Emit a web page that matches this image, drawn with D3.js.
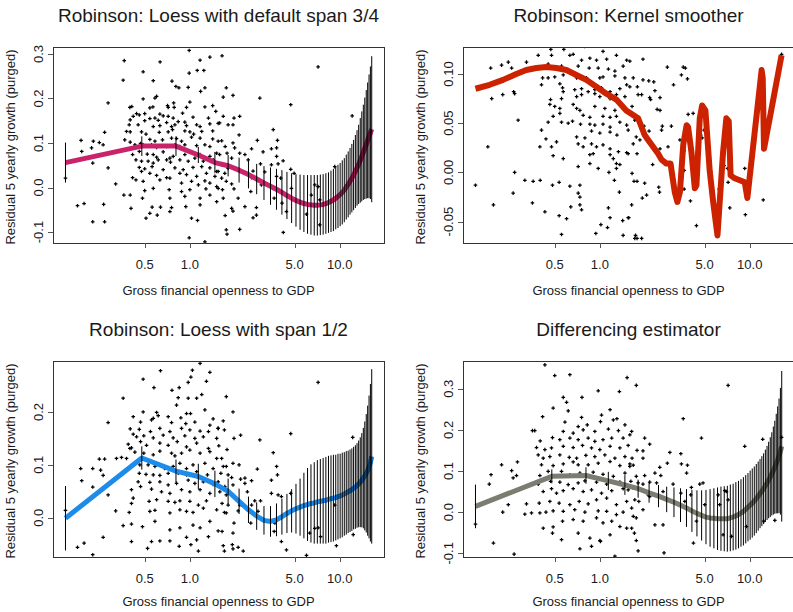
<!DOCTYPE html>
<html><head><meta charset="utf-8">
<script src="https://cdn.jsdelivr.net/npm/d3@7"></script>
<style>body{margin:0;background:#fff}svg{display:block}text{font-family:"Liberation Sans",Arial,sans-serif;fill:#1a1a1a}</style>
</head><body><svg id="c" width="793" height="612"></svg>
<script>
// ---------- data ----------
const xTicks=[0.5,1,5,10];
const xTickLabels=["0.5","1.0","5.0","10.0"];
const xLabel="Gross financial openness to GDP";
const yLabel="Residual 5 yearly growth (purged)";
const titles=["Robinson: Loess with default span 3/4","Robinson: Kernel smoother","Robinson: Loess with span 1/2","Differencing estimator"];

const gridX=[0.148,0.478,0.808,1.139,1.469,1.800,2.130,2.461,2.791,3.122,3.452,3.783,4.113,4.443,4.774,5.104,5.435,5.765,6.096,6.426,6.757,7.087,7.418,7.748,8.079,8.409,8.740,9.070,9.401,9.731,10.06,10.39,10.72,11.05,11.38,11.71,12.04,12.37,12.71,13.04,13.37,13.70,14.03,14.36,14.69,15.02,15.35,15.68,16.01,16.34];

const fitSpan34=[0.056,0.093,0.093,0.073,0.056,0.049,0.039,0.029,0.019,0.010,0.003,-0.004,-0.011,-0.018,-0.024,-0.029,-0.033,-0.036,-0.038,-0.039,-0.040,-0.040,-0.039,-0.038,-0.036,-0.034,-0.031,-0.028,-0.024,-0.020,-0.016,-0.011,-0.006,0.001,0.007,0.014,0.021,0.028,0.036,0.044,0.052,0.061,0.070,0.079,0.088,0.097,0.106,0.115,0.123,0.131];
const bandSpan34=[0.045,0.022,0.022,0.018,0.024,0.024,0.028,0.031,0.034,0.038,0.042,0.046,0.050,0.053,0.056,0.059,0.062,0.064,0.066,0.067,0.068,0.068,0.068,0.068,0.068,0.068,0.069,0.070,0.070,0.071,0.071,0.072,0.072,0.073,0.074,0.075,0.077,0.079,0.082,0.085,0.089,0.095,0.101,0.107,0.114,0.122,0.130,0.139,0.149,0.164];

const fitSpan12=[-0.001,0.113,0.088,0.078,0.064,0.050,0.031,0.015,0.003,-0.005,-0.007,-0.004,0.002,0.008,0.013,0.017,0.020,0.023,0.025,0.027,0.028,0.030,0.031,0.032,0.033,0.035,0.036,0.037,0.038,0.040,0.041,0.043,0.045,0.047,0.049,0.051,0.053,0.056,0.058,0.061,0.064,0.067,0.071,0.075,0.079,0.084,0.089,0.096,0.104,0.116];
const bandSpan12=[0.061,0.022,0.022,0.024,0.025,0.024,0.024,0.025,0.026,0.027,0.029,0.031,0.034,0.037,0.041,0.047,0.054,0.062,0.069,0.074,0.077,0.079,0.080,0.081,0.082,0.082,0.082,0.082,0.081,0.081,0.080,0.080,0.079,0.079,0.078,0.078,0.078,0.078,0.079,0.080,0.082,0.085,0.089,0.095,0.103,0.112,0.123,0.135,0.149,0.165];

const fitDiff=[0.014,0.087,0.089,0.076,0.066,0.057,0.047,0.039,0.031,0.024,0.017,0.010,0.003,-0.003,-0.008,-0.012,-0.014,-0.015,-0.016,-0.016,-0.016,-0.016,-0.014,-0.012,-0.009,-0.006,-0.002,0.002,0.007,0.012,0.017,0.022,0.027,0.033,0.039,0.045,0.051,0.057,0.064,0.071,0.078,0.085,0.093,0.101,0.109,0.118,0.127,0.137,0.148,0.160];
const bandDiff=[0.053,0.017,0.020,0.022,0.024,0.022,0.024,0.027,0.031,0.036,0.041,0.046,0.051,0.056,0.061,0.066,0.070,0.073,0.076,0.078,0.079,0.080,0.081,0.081,0.082,0.082,0.082,0.083,0.083,0.083,0.084,0.084,0.084,0.084,0.084,0.084,0.085,0.086,0.088,0.090,0.093,0.097,0.101,0.107,0.113,0.121,0.130,0.139,0.154,0.183];

const kernX=[0.148,0.184,0.226,0.277,0.323,0.377,0.440,0.513,0.598,0.697,0.813,0.948,1.105,1.289,1.50,1.80,1.99,2.10,2.45,2.58,2.78,2.96,3.16,3.29,3.42,3.60,3.79,3.88,4.08,4.30,4.41,4.64,4.81,5.06,5.41,5.70,6.09,6.64,6.98,7.24,7.45,7.94,9.26,9.64,12.0,12.2,12.45,16.3];
const kernY=[0.085,0.089,0.094,0.100,0.104,0.106,0.107,0.106,0.104,0.099,0.094,0.087,0.080,0.074,0.063,0.055,0.038,0.033,0.019,0.013,0.009,0.009,-0.020,-0.030,-0.020,0.028,0.048,0.046,0.021,-0.016,-0.013,0.055,0.068,0.063,0.001,-0.030,-0.064,0.021,0.055,0.052,-0.003,-0.006,-0.010,-0.026,0.104,0.096,0.024,0.119];

const ptsSpan34=[[0.365,0.285],[0.633,0.282],[0.99,0.308],[1.17,0.286],[1.36,0.293],[1.24,0.263],[1.12,0.263],[0.99,0.257],[0.488,0.260],[0.359,0.241],[0.76,0.239],[0.57,0.240],[0.807,0.227],[0.845,0.224],[0.975,0.225],[1.18,0.216],[1.26,0.224],[0.488,0.199],[0.585,0.201],[0.60,0.205],[0.285,0.190],[0.41,0.182],[0.398,0.180],[0.567,0.181],[0.541,0.179],[0.71,0.184],[0.78,0.190],[0.786,0.180],[0.717,0.180],[1.0,0.192],[0.95,0.180],[1.26,0.181],[1.42,0.184],[1.49,0.171],[0.441,0.166],[0.419,0.160],[0.46,0.163],[0.50,0.166],[0.631,0.165],[0.664,0.161],[0.717,0.160],[0.585,0.156],[0.774,0.156],[0.894,0.167],[1.05,0.158],[1.33,0.156],[0.40,0.152],[0.50,0.150],[0.541,0.155],[0.615,0.151],[0.70,0.146],[0.836,0.148],[0.926,0.147],[1.11,0.141],[1.36,0.143],[1.545,0.144],[0.394,0.141],[0.452,0.141],[0.57,0.137],[0.631,0.139],[0.755,0.137],[0.795,0.141],[0.95,0.139],[1.17,0.137],[0.378,0.126],[0.40,0.125],[0.476,0.125],[0.51,0.120],[0.625,0.124],[0.717,0.125],[0.766,0.130],[0.926,0.127],[1.0,0.125],[1.06,0.120],[1.20,0.126],[1.42,0.127],[0.27,0.124],[0.188,0.106],[0.227,0.104],[0.249,0.101],[0.368,0.107],[0.40,0.102],[0.469,0.099],[0.541,0.108],[0.585,0.104],[0.657,0.107],[0.755,0.111],[0.815,0.110],[0.88,0.104],[1.026,0.113],[1.17,0.111],[1.42,0.109],[1.545,0.104],[0.19,0.081],[0.221,0.089],[0.264,0.096],[0.43,0.096],[0.488,0.096],[0.555,0.096],[0.60,0.090],[0.70,0.092],[0.795,0.096],[0.858,0.092],[0.926,0.096],[1.11,0.094],[1.26,0.096],[1.36,0.092],[0.415,0.074],[0.46,0.081],[0.52,0.075],[0.57,0.074],[0.60,0.068],[0.664,0.080],[0.736,0.066],[0.774,0.070],[0.926,0.074],[1.0,0.081],[1.05,0.077],[1.17,0.074],[1.36,0.070],[1.51,0.077],[0.225,0.055],[0.437,0.062],[0.476,0.059],[0.527,0.059],[0.57,0.055],[0.615,0.062],[0.70,0.062],[0.743,0.057],[0.858,0.062],[0.975,0.059],[1.08,0.066],[1.23,0.059],[1.43,0.062],[0.285,0.044],[0.46,0.045],[0.50,0.042],[0.56,0.047],[0.664,0.040],[0.795,0.044],[0.903,0.040],[1.05,0.045],[1.20,0.047],[1.36,0.044],[1.51,0.036],[0.415,0.022],[0.476,0.036],[0.541,0.032],[0.60,0.027],[0.70,0.022],[0.736,0.021],[0.858,0.032],[0.95,0.029],[1.11,0.025],[1.29,0.032],[1.47,0.025],[0.32,0.008],[0.437,0.017],[0.488,0.014],[0.631,0.017],[0.88,0.010],[1.026,0.014],[1.14,0.006],[1.26,0.015],[1.36,0.010],[0.50,-0.007],[0.57,-0.002],[0.728,-0.005],[0.88,-0.009],[1.0,-0.005],[1.28,-0.003],[1.51,0.002],[0.363,-0.017],[0.40,-0.017],[0.483,-0.024],[0.736,-0.024],[0.926,-0.020],[1.17,-0.024],[1.36,-0.017],[0.178,-0.041],[0.197,-0.036],[0.266,-0.038],[0.405,-0.047],[0.56,-0.044],[0.637,-0.044],[0.755,-0.045],[0.94,-0.043],[1.17,-0.039],[1.51,-0.032],[0.51,-0.069],[0.541,-0.058],[0.606,-0.062],[0.736,-0.054],[1.026,-0.069],[1.125,-0.074],[0.225,-0.077],[0.27,-0.077],[0.99,-0.113],[1.26,-0.122],[0.148,0.021],[1.64,0.296],[7.17,0.271],[1.75,0.224],[1.67,0.203],[1.94,0.207],[2.93,0.201],[4.71,0.186],[1.67,0.160],[1.97,0.156],[2.15,0.160],[1.58,0.145],[1.80,0.141],[1.94,0.141],[3.6,0.130],[2.13,0.118],[1.63,0.105],[1.94,0.100],[2.82,0.106],[3.84,0.106],[1.72,0.092],[1.99,0.089],[2.58,0.087],[3.5,0.087],[3.79,0.089],[1.77,0.077],[2.15,0.077],[2.33,0.074],[3.08,0.080],[1.58,0.074],[1.90,0.066],[2.45,0.062],[3.79,0.070],[4.19,0.060],[1.63,0.051],[1.80,0.043],[2.96,0.053],[3.5,0.051],[3.88,0.053],[4.71,0.041],[1.545,0.036],[1.71,0.032],[2.21,0.036],[2.64,0.037],[3.16,0.035],[4.96,0.032],[1.63,0.021],[1.75,0.014],[1.90,0.008],[2.58,0.022],[3.79,0.025],[4.04,0.021],[1.545,-0.002],[1.65,-0.005],[1.97,-0.003],[3.0,0.006],[3.6,-0.002],[2.55,-0.009],[4.76,-0.002],[6.81,0.006],[1.67,-0.024],[2.10,-0.024],[3.65,-0.024],[7.17,0.002],[7.36,-0.028],[1.90,-0.047],[2.33,-0.043],[2.78,-0.045],[4.12,-0.035],[1.72,-0.063],[1.94,-0.053],[2.64,-0.068],[2.78,-0.062],[4.41,-0.054],[6.0,-0.060],[1.75,-0.095],[2.15,-0.094],[1.77,-0.105],[4.2,-0.101],[7.36,-0.084],[12.1,0.161],[9.26,0.047],[6.47,-0.017]];

const ptsKernel=[[0.471,0.125],[0.575,0.125],[0.79,0.128],[1.05,0.123],[0.388,0.119],[0.476,0.119],[0.631,0.119],[0.664,0.120],[0.755,0.114],[0.858,0.116],[0.95,0.114],[1.11,0.115],[1.29,0.119],[1.51,0.114],[0.187,0.106],[0.245,0.112],[0.221,0.109],[0.258,0.106],[0.324,0.112],[0.452,0.110],[0.555,0.108],[0.717,0.108],[0.849,0.106],[0.975,0.106],[1.14,0.105],[1.26,0.103],[1.43,0.108],[0.415,0.096],[0.452,0.096],[0.50,0.097],[0.57,0.099],[0.70,0.096],[0.766,0.096],[0.815,0.096],[1.0,0.096],[1.05,0.097],[1.26,0.098],[1.47,0.096],[0.408,0.089],[0.541,0.090],[0.564,0.086],[0.68,0.084],[0.755,0.085],[0.836,0.082],[0.926,0.084],[1.026,0.086],[1.17,0.082],[1.36,0.085],[1.51,0.089],[0.19,0.075],[0.225,0.079],[0.266,0.082],[0.27,0.080],[0.469,0.074],[0.555,0.075],[0.57,0.082],[0.70,0.077],[0.755,0.079],[0.926,0.080],[1.0,0.077],[1.17,0.075],[1.29,0.079],[1.47,0.077],[0.464,0.069],[0.50,0.067],[0.541,0.065],[0.664,0.069],[0.70,0.065],[0.736,0.063],[0.926,0.067],[1.08,0.065],[1.26,0.063],[0.488,0.057],[0.541,0.060],[0.774,0.058],[0.858,0.056],[1.05,0.057],[1.17,0.056],[1.29,0.057],[0.285,0.053],[0.452,0.051],[0.555,0.051],[0.615,0.050],[0.657,0.052],[0.743,0.049],[0.858,0.049],[0.926,0.048],[1.05,0.049],[1.17,0.046],[1.36,0.051],[1.51,0.048],[0.408,0.043],[0.88,0.042],[1.0,0.040],[1.17,0.041],[1.3,0.038],[0.437,0.034],[0.514,0.031],[0.398,0.026],[0.476,0.026],[0.179,0.026],[0.70,0.036],[0.795,0.035],[0.717,0.029],[0.774,0.026],[0.88,0.029],[0.95,0.026],[1.05,0.028],[1.17,0.024],[1.33,0.021],[1.51,0.020],[0.488,0.017],[0.57,0.014],[0.858,0.018],[0.903,0.019],[1.17,0.018],[1.23,0.014],[1.29,0.009],[1.36,0.008],[0.27,0.000],[0.717,0.006],[0.858,0.009],[0.975,0.004],[1.15,0.000],[1.29,0.004],[0.316,-0.008],[0.359,-0.009],[0.40,-0.008],[0.483,-0.013],[0.535,-0.010],[0.631,-0.014],[0.736,-0.013],[0.148,-0.013],[0.264,-0.021],[0.717,-0.021],[0.736,-0.025],[1.25,-0.008],[1.35,-0.020],[0.355,-0.031],[0.195,-0.033],[0.64,-0.035],[0.736,-0.033],[0.755,-0.038],[1.14,-0.036],[0.43,-0.040],[0.535,-0.044],[0.60,-0.047],[1.17,-0.046],[1.42,-0.049],[1.56,-0.046],[1.016,-0.053],[1.125,-0.056],[0.555,-0.063],[0.94,-0.062],[1.43,-0.064],[1.585,0.113],[1.94,0.115],[2.82,0.107],[3.6,0.107],[3.72,0.106],[3.5,0.099],[3.84,0.095],[1.67,0.096],[1.94,0.094],[2.12,0.093],[2.29,0.092],[1.585,0.087],[1.78,0.087],[3.1,0.089],[2.33,0.083],[1.80,0.079],[1.90,0.079],[2.15,0.076],[2.18,0.074],[2.52,0.076],[1.64,0.067],[2.41,0.064],[2.52,0.063],[3.88,0.059],[4.19,0.060],[1.71,0.053],[1.97,0.047],[2.61,0.047],[3.0,0.047],[1.545,0.043],[2.13,0.042],[2.58,0.043],[4.96,0.043],[1.75,0.036],[4.71,0.038],[4.81,0.035],[3.42,0.033],[1.85,0.033],[4.04,0.029],[1.67,0.029],[2.85,0.026],[2.52,0.024],[1.545,0.019],[1.77,0.019],[3.65,0.022],[2.25,0.008],[6.74,0.007],[7.1,0.004],[9.26,0.004],[3.65,0.002],[1.64,-0.001],[1.69,-0.009],[1.77,-0.009],[1.99,-0.011],[2.47,-0.015],[2.5,-0.020],[7.17,-0.010],[6.25,-0.017],[3.65,-0.017],[2.05,-0.023],[1.92,-0.026],[4.02,-0.029],[12.3,-0.028],[1.63,-0.033],[7.36,-0.036],[9.35,-0.043],[1.545,-0.046],[4.41,-0.054],[1.73,-0.064],[1.71,-0.067],[1.77,-0.067],[1.90,-0.067],[16.3,0.120]];

const ptsSpan12=[[0.365,0.298],[1.17,0.292],[0.637,0.278],[1.04,0.279],[1.36,0.275],[1.016,0.266],[0.488,0.262],[0.975,0.256],[1.29,0.258],[0.576,0.246],[0.849,0.246],[0.76,0.241],[0.359,0.226],[0.836,0.227],[0.975,0.226],[1.11,0.226],[1.20,0.233],[0.815,0.213],[0.488,0.200],[0.60,0.199],[0.95,0.197],[1.01,0.197],[1.26,0.204],[0.419,0.191],[0.57,0.188],[0.615,0.193],[0.717,0.191],[0.871,0.189],[1.43,0.187],[0.285,0.180],[0.469,0.181],[0.555,0.185],[0.755,0.180],[0.94,0.178],[1.08,0.181],[1.36,0.175],[0.40,0.168],[0.46,0.167],[0.546,0.163],[0.631,0.169],[0.736,0.163],[0.88,0.169],[1.0,0.166],[1.17,0.164],[1.33,0.163],[1.545,0.169],[0.419,0.158],[0.441,0.153],[0.493,0.155],[0.57,0.151],[0.664,0.156],[0.774,0.151],[0.926,0.155],[1.08,0.150],[1.23,0.153],[1.51,0.150],[0.388,0.139],[0.408,0.132],[0.469,0.144],[0.514,0.137],[0.631,0.141],[0.717,0.137],[0.824,0.144],[0.95,0.134],[1.11,0.141],[1.33,0.131],[1.56,0.136],[0.187,0.093],[0.225,0.093],[0.249,0.111],[0.27,0.111],[0.324,0.112],[0.35,0.114],[0.398,0.131],[0.378,0.112],[0.43,0.124],[0.493,0.122],[0.57,0.119],[0.631,0.126],[0.755,0.122],[0.795,0.117],[0.88,0.122],[1.0,0.128],[1.17,0.122],[1.36,0.125],[1.51,0.112],[0.254,0.090],[0.264,0.080],[0.464,0.100],[0.527,0.100],[0.585,0.097],[0.68,0.093],[0.774,0.097],[0.858,0.103],[0.95,0.093],[1.05,0.100],[1.26,0.103],[1.43,0.093],[0.19,0.070],[0.225,0.058],[0.46,0.084],[0.51,0.082],[0.57,0.081],[0.631,0.080],[0.717,0.084],[0.836,0.084],[0.95,0.081],[1.11,0.087],[1.31,0.081],[0.452,0.068],[0.541,0.067],[0.631,0.068],[0.717,0.062],[0.815,0.065],[0.975,0.071],[1.08,0.065],[1.23,0.068],[1.43,0.063],[0.285,0.043],[0.408,0.053],[0.469,0.059],[0.555,0.054],[0.647,0.049],[0.736,0.046],[0.88,0.053],[1.0,0.049],[1.17,0.053],[1.36,0.046],[1.585,0.049],[0.408,0.027],[0.419,0.037],[0.535,0.031],[0.60,0.034],[0.717,0.031],[0.795,0.029],[0.858,0.032],[1.0,0.031],[1.14,0.024],[1.29,0.032],[0.32,0.013],[0.394,0.010],[0.541,0.012],[0.585,0.014],[0.736,0.009],[0.858,0.015],[0.95,0.012],[1.05,0.010],[1.23,0.018],[1.51,0.015],[0.359,-0.015],[0.408,-0.012],[0.483,-0.017],[0.585,-0.007],[0.736,-0.023],[0.858,-0.019],[1.05,-0.014],[1.17,-0.019],[1.36,-0.007],[0.264,-0.037],[0.408,-0.045],[0.555,-0.045],[0.631,-0.044],[0.736,-0.044],[0.95,-0.037],[1.11,-0.042],[1.33,-0.036],[0.178,-0.056],[0.197,-0.048],[0.522,-0.058],[0.225,-0.070],[0.849,-0.054],[1.016,-0.051],[1.14,-0.063],[0.148,0.014],[7.17,0.256],[1.75,0.229],[1.94,0.200],[1.67,0.183],[1.545,0.169],[1.70,0.166],[1.97,0.150],[2.18,0.156],[4.71,0.159],[2.93,0.147],[1.77,0.129],[12.2,0.152],[3.6,0.123],[1.63,0.112],[1.94,0.103],[2.13,0.100],[1.67,0.097],[1.75,0.097],[2.82,0.092],[3.79,0.097],[1.61,0.084],[1.80,0.081],[1.90,0.076],[2.33,0.075],[2.33,0.065],[2.58,0.070],[3.5,0.071],[3.84,0.081],[2.18,0.073],[1.545,0.068],[1.71,0.059],[1.94,0.062],[2.42,0.049],[3.5,0.046],[3.88,0.043],[4.71,0.046],[1.64,0.027],[1.75,0.043],[1.80,0.024],[2.15,0.024],[2.21,0.024],[2.71,0.032],[2.96,0.032],[4.08,0.040],[1.70,0.010],[1.75,0.009],[2.58,0.024],[2.10,0.013],[2.85,0.012],[5.0,0.017],[1.97,-0.010],[2.55,-0.010],[4.08,-0.001],[3.69,-0.010],[3.65,-0.026],[9.26,0.024],[1.545,-0.025],[1.64,-0.026],[1.94,-0.029],[6.3,-0.029],[6.81,-0.020],[7.17,-0.019],[7.45,-0.036],[12.3,-0.032],[4.08,-0.045],[1.67,-0.053],[1.92,-0.051],[1.94,-0.059],[2.10,-0.056],[2.27,-0.063],[1.70,-0.063],[4.41,-0.061],[6.0,-0.071],[9.5,-0.053]];

const ptsDiff=[[0.43,0.358],[0.50,0.332],[0.631,0.334],[1.52,0.327],[0.975,0.295],[1.35,0.293],[0.57,0.279],[0.76,0.279],[0.60,0.267],[0.488,0.253],[1.17,0.249],[1.30,0.227],[1.026,0.236],[0.755,0.230],[0.615,0.246],[0.415,0.232],[0.585,0.219],[0.717,0.208],[0.824,0.212],[1.01,0.220],[1.23,0.224],[1.47,0.212],[0.355,0.198],[0.368,0.198],[0.57,0.196],[0.664,0.192],[0.774,0.200],[0.926,0.196],[1.14,0.202],[1.33,0.198],[0.40,0.173],[0.483,0.181],[0.541,0.176],[0.631,0.180],[0.717,0.176],[0.836,0.180],[0.926,0.172],[1.05,0.176],[1.20,0.180],[1.43,0.180],[0.378,0.157],[0.43,0.152],[0.476,0.156],[0.57,0.160],[0.664,0.157],[0.766,0.162],[0.88,0.156],[1.0,0.152],[1.17,0.160],[1.36,0.156],[1.545,0.162],[0.388,0.139],[0.419,0.131],[0.464,0.135],[0.541,0.139],[0.625,0.133],[0.70,0.131],[0.807,0.138],[0.926,0.135],[1.08,0.139],[1.26,0.131],[1.47,0.135],[0.221,0.115],[0.282,0.122],[0.408,0.115],[0.488,0.113],[0.57,0.117],[0.664,0.122],[0.717,0.115],[0.836,0.115],[0.975,0.119],[1.17,0.123],[1.36,0.113],[1.585,0.117],[0.188,0.091],[0.258,0.101],[0.278,0.089],[0.398,0.089],[0.452,0.099],[0.555,0.099],[0.631,0.091],[0.736,0.095],[0.903,0.097],[1.05,0.092],[1.23,0.087],[1.47,0.095],[0.183,0.068],[0.264,0.083],[0.388,0.068],[0.469,0.075],[0.541,0.073],[0.615,0.067],[0.717,0.071],[0.795,0.076],[0.95,0.073],[1.11,0.068],[1.36,0.073],[0.419,0.050],[0.476,0.057],[0.514,0.046],[0.57,0.052],[0.664,0.057],[0.774,0.050],[0.88,0.054],[1.026,0.046],[1.20,0.052],[1.43,0.057],[0.245,0.018],[0.324,0.020],[0.394,0.022],[0.464,0.026],[0.535,0.022],[0.631,0.018],[0.728,0.026],[0.836,0.020],[0.95,0.030],[1.11,0.034],[1.29,0.018],[1.51,0.026],[0.225,0.000],[0.316,-0.005],[0.35,-0.002],[0.398,-0.002],[0.437,0.000],[0.488,0.003],[0.57,0.002],[0.68,0.006],[0.795,0.000],[0.975,0.003],[1.11,0.002],[1.29,-0.006],[1.43,0.000],[0.419,-0.039],[0.488,-0.036],[0.564,-0.022],[0.664,-0.018],[0.774,-0.022],[0.95,-0.014],[1.05,-0.026],[1.20,-0.022],[1.36,-0.035],[1.51,-0.039],[0.483,-0.051],[0.555,-0.067],[0.717,-0.051],[0.858,-0.063],[1.0,-0.069],[1.17,-0.055],[0.736,-0.089],[0.88,-0.083],[0.148,-0.029],[0.195,-0.075],[0.268,-0.102],[1.26,-0.107],[1.01,-0.071],[1.75,0.308],[7.17,0.308],[3.6,0.227],[4.76,0.180],[9.26,0.160],[12.2,0.177],[16.3,0.182],[1.63,0.196],[1.585,0.188],[1.99,0.180],[2.15,0.165],[1.77,0.150],[1.94,0.149],[2.93,0.145],[3.47,0.142],[1.64,0.131],[1.94,0.131],[1.585,0.111],[1.67,0.114],[2.51,0.109],[2.82,0.119],[3.5,0.117],[3.84,0.114],[3.79,0.095],[1.75,0.087],[1.99,0.089],[2.33,0.095],[2.55,0.089],[1.61,0.075],[1.80,0.071],[1.94,0.068],[2.15,0.073],[2.39,0.071],[3.08,0.068],[4.88,0.071],[4.64,0.068],[4.08,0.060],[1.545,0.054],[1.67,0.058],[1.90,0.054],[2.10,0.042],[2.64,0.050],[3.47,0.046],[4.04,0.042],[6.15,0.042],[6.81,0.052],[6.99,0.050],[1.71,0.030],[1.82,0.026],[2.15,0.038],[2.85,0.030],[3.69,0.026],[5.01,0.018],[6.3,0.018],[7.17,0.030],[1.63,0.010],[1.94,0.006],[1.67,-0.010],[1.75,-0.014],[4.41,-0.022],[2.33,-0.031],[2.64,-0.031],[1.63,-0.039],[1.70,-0.051],[1.75,-0.069],[4.21,-0.075],[2.68,-0.099],[1.80,-0.094],[6.64,-0.055],[7.55,-0.059],[9.5,-0.035],[12.4,-0.022],[14.7,-0.020]];

// ---------- layout / style ----------
const W=331, H=196;
const xDomain=[0.1222,19.73];
const panels=[
 {left:53, top:47, title:titles[0], yDom:[-0.1247,0.3157], yT:[-0.1,0,0.1,0.2,0.3], fmt:".1f", pts:ptsSpan34, fit:fitSpan34, band:bandSpan34, color:"#C8236B", lw:5},
 {left:463, top:47, title:titles[1], yDom:[-0.0717,0.1274], yT:[-0.05,0,0.05,0.10], fmt:".2f", pts:ptsKernel, kern:true, color:"#CC2200", lw:6},
 {left:53, top:361, title:titles[2], yDom:[-0.0743,0.2964], yT:[0,0.1,0.2], fmt:".1f", pts:ptsSpan12, fit:fitSpan12, band:bandSpan12, color:"#1C8BEA", lw:5},
 {left:463, top:361, title:titles[3], yDom:[-0.109,0.3673], yT:[-0.1,0,0.1,0.2,0.3], fmt:".1f", pts:ptsDiff, fit:fitDiff, band:bandDiff, color:"#7C7C70", lw:5}
];

const svg=d3.select("#c");
const defs=svg.append("defs");

panels.forEach((p,pi)=>{
  const x=d3.scaleLog().domain(xDomain).range([p.left,p.left+W]);
  const y=d3.scaleLinear().domain(p.yDom).range([p.top+H,p.top]);
  const cid="clip"+pi;
  defs.append("clipPath").attr("id",cid).append("rect").attr("x",p.left).attr("y",p.top).attr("width",W).attr("height",H);
  const g=svg.append("g");
  const plot=g.append("g").attr("clip-path",`url(#${cid})`);
  // points
  plot.append("g").selectAll("path").data(p.pts).join("path")
    .attr("d",d=>`M${x(d[0])-1.8},${y(d[1])}h3.6M${x(d[0])},${y(d[1])-1.8}v3.6`)
    .attr("stroke","#000").attr("stroke-width",1.25).attr("fill","none");
  // smooth line
  const line=d3.line().x(d=>x(d[0])).y(d=>y(d[1]));
  let lineData;
  if(p.kern){ lineData=kernX.map((v,i)=>[v,kernY[i]]); }
  else { lineData=gridX.map((v,i)=>[v,p.fit[i]]); }
  plot.append("path").attr("d",line(lineData)).attr("fill","none")
    .attr("stroke",p.color).attr("stroke-width",p.lw).attr("stroke-linejoin","round").attr("stroke-linecap","butt");
  // error bars
  if(!p.kern){
    plot.append("g").selectAll("line").data(gridX.map((v,i)=>({x:v,lo:p.fit[i]-p.band[i],hi:p.fit[i]+p.band[i]}))).join("line")
      .attr("x1",d=>x(d.x)).attr("x2",d=>x(d.x)).attr("y1",d=>y(d.lo)).attr("y2",d=>y(d.hi))
      .attr("stroke","#000").attr("stroke-width",1);
  }
  // box
  g.append("rect").attr("x",p.left+0.5).attr("y",p.top+0.5).attr("width",W).attr("height",H)
    .attr("fill","none").attr("stroke","#333").attr("stroke-width",1);
  // x axis ticks and labels
  xTicks.forEach((t,i)=>{
    const xx=Math.round(x(t))+0.5;
    g.append("line").attr("x1",xx).attr("x2",xx).attr("y1",p.top+H).attr("y2",p.top+H+5).attr("stroke","#555");
    g.append("text").attr("x",x(t)).attr("y",p.top+H+26).attr("text-anchor","middle").attr("font-size",13).text(xTickLabels[i]);
  });
  // y axis ticks and labels
  const f=d3.format(p.fmt);
  p.yT.forEach(t=>{
    const yy=Math.round(y(t))+0.5;
    g.append("line").attr("x1",p.left-5).attr("x2",p.left).attr("y1",yy).attr("y2",yy).attr("stroke","#555");
    g.append("text").attr("transform",`translate(${p.left-10},${y(t)}) rotate(-90)`).attr("text-anchor","middle").attr("font-size",13)
      .text(f(t).replace("−","-"));
  });
  // titles and labels
  g.append("text").attr("x",p.left+W/2).attr("y",p.top-25).attr("text-anchor","middle").attr("font-size",19).text(p.title);
  g.append("text").attr("x",p.left+W/2).attr("y",p.top+H+(pi<2?52:49)).attr("text-anchor","middle").attr("font-size",13).text(xLabel);
  g.append("text").attr("transform",`translate(${p.left-38},${p.top+H/2+2}) rotate(-90)`).attr("text-anchor","middle").attr("font-size",13).text(yLabel);
});
</script>
</body></html>
